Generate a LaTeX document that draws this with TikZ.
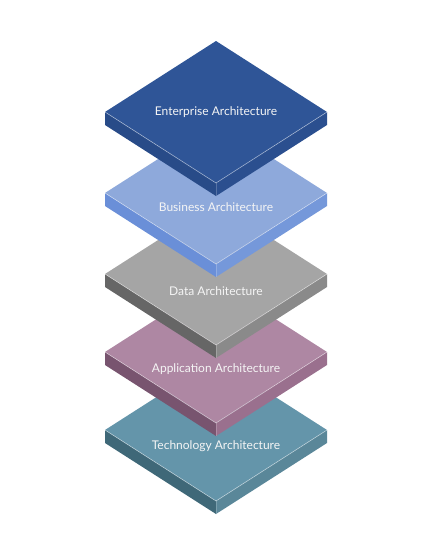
\documentclass[tikz,border=0pt]{standalone}
\usepackage{fontspec}
\setmainfont{Lato}
\definecolor{entTop}{HTML}{2F5597}
\definecolor{entL}{HTML}{284B88}
\definecolor{entR}{HTML}{2B4F8F}
\definecolor{busTop}{HTML}{8EA9DB}
\definecolor{busL}{HTML}{6A8FD8}
\definecolor{busR}{HTML}{7598DA}
\definecolor{datTop}{HTML}{A5A5A5}
\definecolor{datL}{HTML}{666666}
\definecolor{datR}{HTML}{8A8A8A}
\definecolor{appTop}{HTML}{AE87A3}
\definecolor{appL}{HTML}{78546F}
\definecolor{appR}{HTML}{9A708E}
\definecolor{tecTop}{HTML}{6495AA}
\definecolor{tecL}{HTML}{3F6878}
\definecolor{tecR}{HTML}{5A8799}
\begin{document}
\begin{tikzpicture}[x=1pt,y=-1pt,
  lbl/.style={text=white!92!gray, font=\fontsize{12}{14}\selectfont, inner sep=0pt},
  edgehl/.style={draw=white, draw opacity=.5, line width=.6pt},
  pics/slab/.style n args={3}{code={
    \fill[#2] (-111,0) -- (0,71) -- (0,84) -- (-111,13) -- cycle;
    \fill[#3] (111,0) -- (0,71) -- (0,84) -- (111,13) -- cycle;
    \fill[#1] (0,-71) -- (111,0) -- (0,71) -- (-111,0) -- cycle;
    \path[edgehl] (-111,0) -- (0,71) -- (111,0);
    \path[edgehl, draw opacity=.2] (0,71) -- (0,84);
  }}]
\useasboundingbox (0,0) rectangle (447,558);
\fill[white] (0,0) rectangle (447,558);
\pic at (216,430) {slab={tecTop}{tecL}{tecR}};
\pic at (216,352) {slab={appTop}{appL}{appR}};
\pic at (216,274) {slab={datTop}{datL}{datR}};
\pic at (216,193) {slab={busTop}{busL}{busR}};
\pic at (216,112) {slab={entTop}{entL}{entR}};
\node[lbl] (ent) at (216,112) {Enterprise Architecture};
\node[lbl] (bus) at (216,207) {Business Architecture};
\node[lbl] (dat) at (216,291) {Data Architecture};
\node[lbl] (app) at (216,369) {Application Architecture};
\node[lbl] (tec) at (216,446) {Technology Architecture};
\end{tikzpicture}
\end{document}
